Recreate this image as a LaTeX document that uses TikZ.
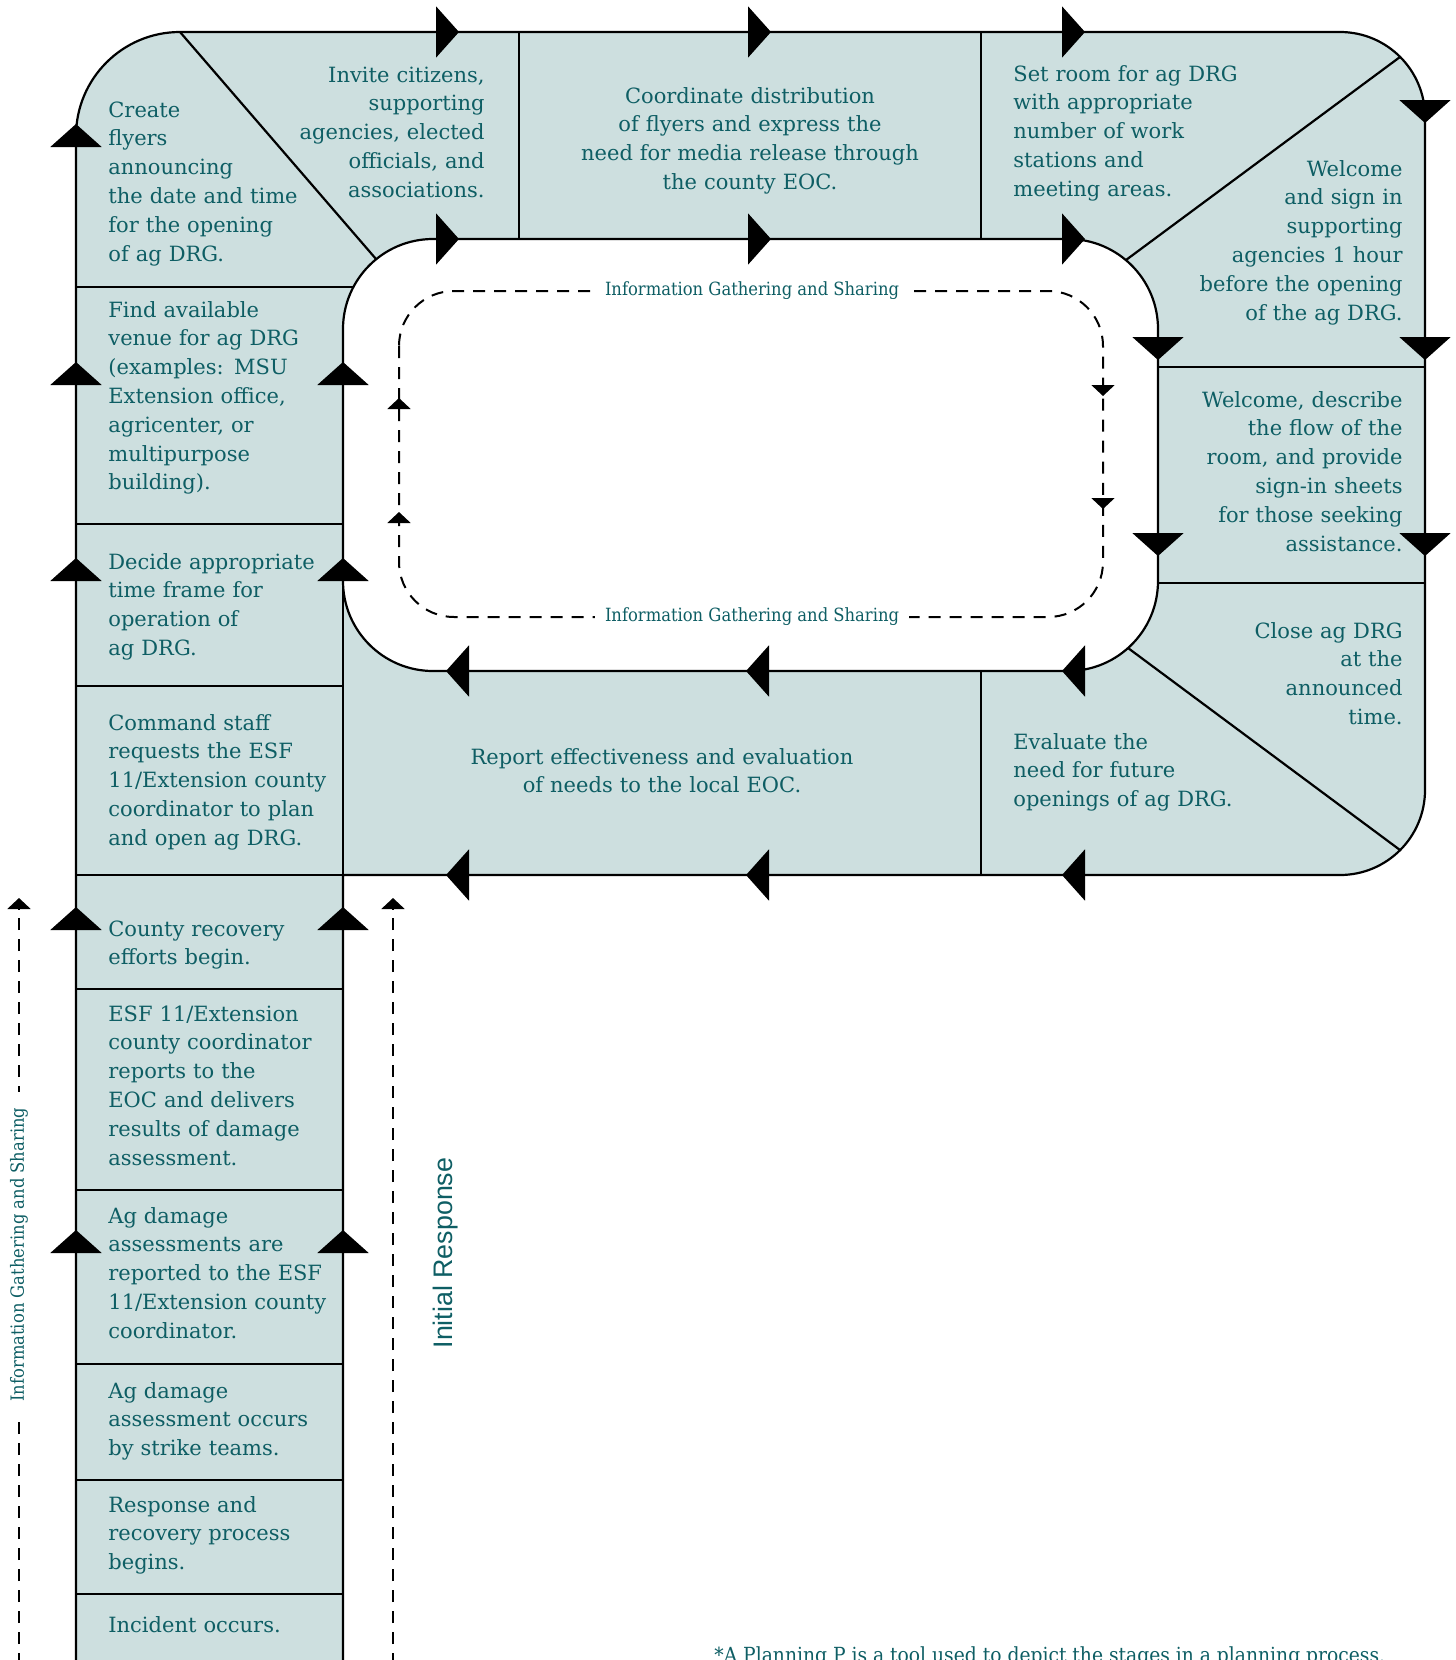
\documentclass[tikz,border=0pt]{standalone}
\usepackage{fontspec}
\setmainfont{DejaVu Serif}
\newfontfamily\condserif{DejaVu Serif Condensed}
\newfontfamily\plainsans{Liberation Sans}
\usepackage{tikz}
\usetikzlibrary{arrows.meta, positioning}
\definecolor{cellfill}{HTML}{CDDFDF}
\definecolor{inkteal}{HTML}{0E5E64}

\begin{document}
\begin{tikzpicture}[
  x=0.5pt, y=-0.5pt,
  rim/.style={draw=black, line width=1.1pt},
  stage/.style={font=\fontsize{10.5}{14.4}\selectfont, text=inkteal, inner sep=0pt, text width=220pt},
  stageL/.style={stage, align=left, anchor=base west},
  stageR/.style={stage, align=right, anchor=base east},
  stageC/.style={stage, align=center, anchor=base},
  flowtip/.style={-{Triangle[length=11.5pt, width=25.5pt]}, line width=1.1pt},
  smalltip/.style={-{Triangle[length=5.5pt, width=11.5pt]}, line width=1pt},
  dashflow/.style={smalltip, dash pattern=on 6pt off 4.5pt},
  gather/.style={font=\condserif\fontsize{9.1}{10}\selectfont, text=inkteal, fill=white, inner xsep=5pt, inner ysep=1pt}
]
  \useasboundingbox (0,0) rectangle (1456,1660);

  \draw[rim, fill=cellfill] (343,1665) -- (343,875) -- (1340,875)
    arc[start angle=-90, end angle=0, radius=42.5pt] -- (1425,117)
    arc[start angle=0, end angle=90, radius=42.5pt] -- (180,32)
    arc[start angle=90, end angle=180, radius=52pt] -- (76,1665) -- cycle;
  \draw[rim, fill=white, rounded corners=45pt] (343,239) rectangle (1158,671);

  \draw[rim] (519,32) -- (519,239) (981,32) -- (981,239);
  \draw[rim] (180,32) -- (376,259);
  \draw[rim] (1400,57) -- (1126,260);
  \draw[rim] (1128,648) -- (1400,850);
  \draw[rim] (981,671) -- (981,875);
  \draw[rim] (343,581) -- (343,875);
  \draw[rim] (76,287) -- (353,287);
  \foreach \y in {524,686,875,989,1190,1364,1480,1594}
    \draw[rim] (76,\y) -- (343,\y);
  \draw[rim] (1158,367) -- (1425,367) (1158,583) -- (1425,583);

  \foreach \x in {459,771,1085} {
    \draw[flowtip] (\x-23,32) -- (\x,32);
    \draw[flowtip] (\x-23,239) -- (\x,239);
  }
  \foreach \y in {123,360,556}
    \draw[flowtip] (1425,\y-23) -- (1425,\y);
  \foreach \y in {360,556}
    \draw[flowtip] (1158,\y-23) -- (1158,\y);
  \foreach \x in {446,746,1062} {
    \draw[flowtip] (\x+23,671) -- (\x,671);
    \draw[flowtip] (\x+23,875) -- (\x,875);
  }
  \foreach \y in {124,362,558,907,1230}
    \draw[flowtip] (76,\y+23) -- (76,\y);
  \foreach \y in {362,558,907,1230}
    \draw[flowtip] (343,\y+23) -- (343,\y);

  \node[stageL] (flyers) at (108,117) {Create\\flyers\\announcing\\the date and time\\for the opening\\of ag DRG.};
  \node[stageR] (invite) at (485,82) {Invite citizens,\\supporting\\agencies, elected\\officials, and\\associations.};
  \node[stageC] (coord) at (750,103) {Coordinate distribution\\of flyers and express the\\need for media release through\\the county EOC.};
  \node[stageL] (setroom) at (1013,81) {Set room for ag DRG\\with appropriate\\number of work\\stations and\\meeting areas.};
  \node[stageR] (signin) at (1403,176) {Welcome\\and sign in\\supporting\\agencies 1 hour\\before the opening\\of the ag DRG.};
  \node[stageR] (describe) at (1403,407) {Welcome, describe\\the flow of the\\room, and provide\\sign-in sheets\\for those seeking\\assistance.};
  \node[stageR] (close) at (1403,638) {Close ag DRG\\at the\\announced\\time.};
  \node[stageL] (evaluate) at (1013,749) {Evaluate the\\need for future\\openings of ag DRG.};
  \node[stageC] (report) at (662,764) {Report effectiveness and evaluation\\of needs to the local EOC.};
  \node[stageL] (venue) at (108,317) {Find available\\venue for ag DRG\\(examples: MSU\\Extension office,\\agricenter, or\\multipurpose\\building).};
  \node[stageL] (timeframe) at (108,569) {Decide appropriate\\time frame for\\operation of\\ag DRG.};
  \node[stageL] (command) at (108,730) {Command staff\\requests the ESF\\11/Extension county\\coordinator to plan\\and open ag DRG.};
  \node[stageL] (recovery) at (108,936) {County recovery\\efforts begin.};
  \node[stageL] (esfreport) at (108,1021) {ESF 11/Extension\\county coordinator\\reports to the\\EOC and delivers\\results of damage\\assessment.};
  \node[stageL] (assessrep) at (108,1223) {Ag damage\\assessments are\\reported to the ESF\\11/Extension county\\coordinator.};
  \node[stageL] (strike) at (108,1398) {Ag damage\\assessment occurs\\by strike teams.};
  \node[stageL] (response) at (108,1512) {Response and\\recovery process\\begins.};
  \node[stageL] (incident) at (108,1632) {Incident occurs.};

  \draw[line width=1pt, dash pattern=on 6pt off 4.5pt, rounded corners=27.5pt] (399,291) rectangle (1103,617);
  \node[gather] (gatherTop) at (752,291) {Information Gathering and Sharing};
  \node[gather] (gatherBot) at (752,617) {Information Gathering and Sharing};
  \foreach \y in {398,512}
    \draw[smalltip] (399,\y+11) -- (399,\y);
  \foreach \y in {396,509}
    \draw[smalltip] (1103,\y-11) -- (1103,\y);

  \coordinate (igsFoot) at (19,1665);
  \coordinate (igsHead) at (19,898);
  \draw[dashflow] (igsFoot) -- node[gather, pos=0.535, sloped, inner xsep=8pt] (igsSide) {Information Gathering and Sharing} (igsHead);
  \coordinate (respFoot) at (393,1665);
  \coordinate (respHead) at (393,898);
  \draw[dashflow] (respFoot) -- (respHead);
  \node[font=\plainsans\fontsize{13.4}{15}\selectfont, text=inkteal, rotate=90] (initial) at (446,1253) {Initial Response};

  \node[font=\condserif\fontsize{10.4}{12}\selectfont, text=inkteal, anchor=base west, inner sep=0pt] (footnote) at (714,1662) {*A Planning P is a tool used to depict the stages in a planning process.};
\end{tikzpicture}
\end{document}
